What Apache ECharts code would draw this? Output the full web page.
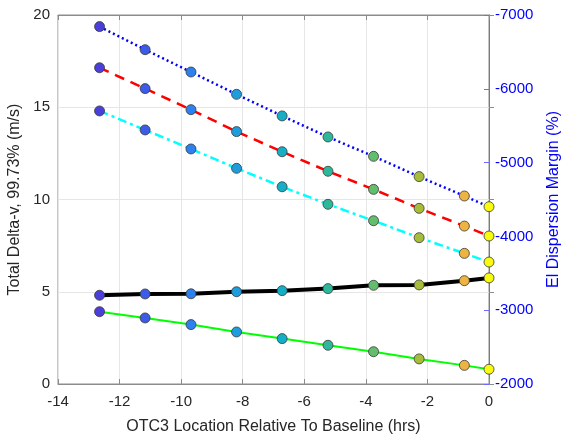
<!DOCTYPE html>
<html>
<head>
<meta charset="utf-8">
<script src="https://cdn.jsdelivr.net/npm/echarts@6/dist/echarts.min.js"></script>
<style>html,body{margin:0;padding:0;background:#fff}#c{width:566px;height:439px}</style>
</head>
<body>
<div id="c"></div>
<script>
// Data
const xHours = [-12.65, -11.17, -9.68, -8.2, -6.72, -5.23, -3.75, -2.27, -0.8, 0];
const blueDotted = [19.37, 18.12, 16.91, 15.70, 14.53, 13.39, 12.34, 11.24, 10.19, 9.61];
const redDashed = [17.14, 16.01, 14.87, 13.68, 12.59, 11.53, 10.55, 9.52, 8.56, 8.02];
const cyanDashDot = [14.80, 13.77, 12.74, 11.69, 10.69, 9.74, 8.85, 7.93, 7.08, 6.61];
const blackSolid = [4.81, 4.88, 4.89, 5.00, 5.06, 5.17, 5.35, 5.37, 5.60, 5.75];
const greenSolid = [3.92, 3.58, 3.22, 2.82, 2.46, 2.10, 1.75, 1.36, 1.01, 0.80];
const xTicks = [-14, -12, -10, -8, -6, -4, -2, 0];
const leftTicks = [0, 5, 10, 15, 20];
const rightTicks = [-7000, -6000, -5000, -4000, -3000, -2000];

const markerPalette = ['#4A3FDB', '#3C5BE9', '#2C80EF', '#1E9CDC', '#16AEC6', '#2EB89B', '#62BD6C', '#A6BD3A', '#EDB444', '#F9FB0E'];

function pts(vals) {
  return vals.map((v, i) => ({ value: [xHours[i], v], itemStyle: { color: markerPalette[i] } }));
}
function series(vals, color, width, type, z) {
  return {
    type: 'line', data: pts(vals), yAxisIndex: 0, xAxisIndex: 0,
    symbol: 'circle', symbolSize: 10, z: z,
    lineStyle: { color: color, width: width, type: type },
    itemStyle: { borderColor: '#3a3a3a', borderWidth: 0.8 },
    emphasis: { disabled: true }, animation: false
  };
}

const font = 'Liberation Sans, Arial, Helvetica, sans-serif';
const chart = echarts.init(document.getElementById('c'), null, { renderer: 'canvas' });
chart.setOption({
  animation: false,
  grid: { left: 58, right: 77, top: 15, bottom: 55, outerBoundsMode: 'none', containLabel: false, show: true, borderColor: '#8c8c8c', borderWidth: 1, backgroundColor: 'transparent' },
  xAxis: [{
    type: 'value', min: xTicks[0], max: xTicks[xTicks.length - 1], interval: 2, position: 'bottom',
    name: 'OTC3 Location Relative To Baseline (hrs)', nameLocation: 'middle', nameGap: 35,
    nameTextStyle: { color: '#262626', fontSize: 16, fontFamily: font },
    axisLine: { show: true, lineStyle: { color: '#8c8c8c', width: 1 } },
    axisTick: { show: true, inside: true, length: 5, lineStyle: { color: '#8c8c8c' } },
    axisLabel: { color: '#262626', fontSize: 15, fontFamily: font, margin: 10 },
    splitLine: { show: true, lineStyle: { color: '#e6e6e6', width: 1 } }
  }, {
    type: 'value', min: xTicks[0], max: xTicks[xTicks.length - 1], interval: 2, position: 'top',
    axisLine: { show: true, lineStyle: { color: '#8c8c8c', width: 1 } },
    axisTick: { show: true, inside: true, length: 5, lineStyle: { color: '#8c8c8c' } },
    axisLabel: { show: false }, splitLine: { show: false }
  }],
  yAxis: [{
    type: 'value', min: leftTicks[0], max: leftTicks[leftTicks.length - 1], interval: 5, position: 'left',
    name: 'Total Delta-v, 99.73% (m/s)', nameLocation: 'middle', nameGap: 29, nameRotate: 90,
    nameTextStyle: { color: '#262626', fontSize: 16, fontFamily: font },
    axisLine: { show: true, lineStyle: { color: '#8c8c8c', width: 1 } },
    axisTick: { show: true, inside: true, length: 5, lineStyle: { color: '#8c8c8c' } },
    axisLabel: { color: '#262626', fontSize: 15, fontFamily: font, margin: 8 },
    splitLine: { show: true, lineStyle: { color: '#e6e6e6', width: 1 } }
  }, {
    type: 'value', min: rightTicks[0], max: rightTicks[rightTicks.length - 1], interval: 1000, inverse: true, position: 'right',
    name: 'El Dispersion Margin (%)', nameLocation: 'middle', nameGap: 57, nameRotate: 90,
    nameTextStyle: { color: '#0000FF', fontSize: 16, fontFamily: font },
    axisLine: { show: true, lineStyle: { color: '#6b6bff', width: 1 } },
    axisTick: { show: true, inside: true, length: 5, lineStyle: { color: '#6b6bff' } },
    axisLabel: { color: '#0000FF', fontSize: 15, fontFamily: font, margin: 6, formatter: v => String(v) },
    splitLine: { show: false }
  }],
  series: [
    series(blueDotted, '#0000FF', 2.5, [2, 3], 5),
    series(redDashed, '#FF0000', 2.5, [10, 7], 5),
    series(cyanDashDot, '#00FFFF', 2.5, [9, 4, 3, 4], 5),
    series(blackSolid, '#000000', 4, 'solid', 6),
    series(greenSolid, '#00FF00', 2, 'solid', 5)
  ]
});
</script>
</body>
</html>
